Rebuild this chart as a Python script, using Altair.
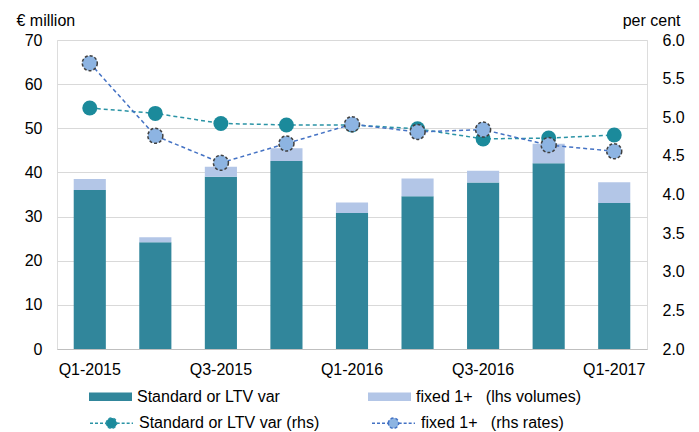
import altair as alt
import pandas as pd

quarters = ["Q1-2015", "Q2-2015", "Q3-2015", "Q4-2015", "Q1-2016",
            "Q2-2016", "Q3-2016", "Q4-2016", "Q1-2017"]
std_vol = [36.0, 24.2, 39.0, 42.6, 30.8, 34.6, 37.7, 42.1, 33.1]
fixed_vol = [2.5, 1.1, 2.3, 2.9, 2.4, 4.0, 2.7, 4.4, 4.7]
std_rate = [5.12, 5.05, 4.92, 4.90, 4.90, 4.85, 4.72, 4.73, 4.77]
fixed_rate = [5.70, 4.76, 4.41, 4.66, 4.91, 4.81, 4.84, 4.64, 4.56]
rate_ticks = [2.0, 2.5, 3.0, 3.5, 4.0, 4.5, 5.0, 5.5, 6.0]
vol_ticks = [0, 10, 20, 30, 40, 50, 60, 70]

NB = "\u00a0"
bar_names = ["Standard or LTV var", "fixed 1+" + NB * 3 + "(lhs volumes)"]
line_names = ["Standard or LTV var (rhs)", "fixed 1+" + NB * 3 + "(rhs rates)"]

bars = pd.DataFrame(
    [{"q": q, "s": bar_names[0], "v": a, "o": 0} for q, a in zip(quarters, std_vol)]
    + [{"q": q, "s": bar_names[1], "v": b, "o": 1} for q, b in zip(quarters, fixed_vol)]
)
lines = pd.DataFrame(
    [{"q": q, "s": line_names[0], "k": 0, "r": a} for q, a in zip(quarters, std_rate)]
    + [{"q": q, "s": line_names[1], "k": 1, "r": b} for q, b in zip(quarters, fixed_rate)]
)

FONT = "Liberation Sans"
teal_bar = "#31869B"
light_bar = "#B3C6E7"
teal_pt = "#1B8A9B"
light_pt = "#8DB4E2"
teal_line = "#2A93A5"
blue_line = "#4472C4"

rect_path = "M-1,-0.2L1,-0.2L1,0.2L-1,0.2Z"
line_path = ("M-1,0L-0.24,0M0.24,0L1,0M-0.24,0A0.24,0.24 0 1,1 0.24,0"
             "A0.24,0.24 0 1,1 -0.24,0Z")

x_axis = alt.Axis(title=None, labelAngle=0, ticks=False,
                  labelExpr="indexof(['Q1','Q3'], substring(datum.value,0,2)) >= 0 ? datum.value : ''",
                  labelPadding=12, labelFontSize=16, labelFont=FONT,
                  labelColor="#000000", domainColor="#BFBFBF",
                  labelOverlap=False)
x_scale = alt.Scale(paddingInner=0.51, paddingOuter=0.255)

bar_layer = alt.Chart(bars).mark_bar().encode(
    x=alt.X("q:N", sort=quarters, scale=x_scale, axis=x_axis),
    y=alt.Y("v:Q", stack="zero",
            scale=alt.Scale(domain=[0, 70]),
            axis=alt.Axis(title="€ million", titleAngle=0, titleAlign="left",
                          titleBaseline="middle", titleX=-41, titleY=-20,
                          titleFontSize=16, titleFont=FONT, titleFontWeight="normal",
                          titleColor="#000000",
                          values=vol_ticks, ticks=False,
                          labelPadding=15, labelFontSize=16, labelFont=FONT,
                          labelColor="#000000", domain=False, labelOverlap=False,
                          grid=True, gridColor="#D9D9D9")),
    color=alt.Color("s:N", sort=bar_names,
                    scale=alt.Scale(domain=bar_names, range=[teal_bar, light_bar]),
                    legend=alt.Legend(title=None, orient="none", legendX=32, legendY=335,
                                      direction="horizontal", columns=2,
                                      columnPadding=88, symbolType=rect_path,
                                      symbolSize=1849, symbolStrokeWidth=0,
                                      labelFontSize=16, labelFont=FONT,
                                      labelColor="#000000", labelOffset=5,
                                      labelLimit=400, padding=0)),
    order=alt.Order("o:Q"),
)

y_rate = alt.Y("r:Q", scale=alt.Scale(domain=[2.0, 6.0], nice=False),
               axis=alt.Axis(title="per cent", titleAngle=0, titleAlign="right",
                             titleBaseline="middle", titleX=33, titleY=-20,
                             titleFontSize=16, titleFont=FONT, titleFontWeight="normal",
                             titleColor="#000000", orient="right",
                             values=rate_ticks, tickCount=9,
                             labelExpr="format(datum.value, '.1f')",
                             ticks=False, labelPadding=15,
                             labelOverlap=False, labelSeparation=0,
                             labelFontSize=16, labelFont=FONT, labelColor="#000000",
                             domain=False, grid=False))

base = alt.Chart(lines).encode(
    x=alt.X("q:N", sort=quarters, scale=x_scale, axis=x_axis),
    y=y_rate,
)

leg = dict(title=None, orient="none", legendX=32, legendY=360.5,
           direction="horizontal", columns=2, columnPadding=49,
           symbolType=line_path, symbolSize=1849, symbolStrokeWidth=1.5,
           symbolDash=[3, 2], labelFontSize=16, labelFont=FONT,
           labelColor="#000000", labelOffset=5, labelLimit=400, padding=0)

line_layer = base.mark_line(strokeDash=[4, 3], strokeWidth=1.5).encode(
    stroke=alt.value(teal_line),
).transform_filter(alt.datum.k == 0)

line_layer2 = base.mark_line(strokeDash=[4, 3], strokeWidth=1.5).encode(
    stroke=alt.value(blue_line),
).transform_filter(alt.datum.k == 1)

point_layer = base.mark_point(filled=True, size=225, shape="circle",
                              opacity=1, strokeWidth=0).encode(
    fill=alt.Fill("s:N", sort=line_names,
                  scale=alt.Scale(domain=line_names, range=[teal_pt, light_pt]),
                  legend=alt.Legend(**leg)),
    stroke=alt.Stroke("s:N", sort=line_names,
                      scale=alt.Scale(domain=line_names, range=[teal_line, blue_line]),
                      legend=alt.Legend(**leg)),
)

outline_layer = base.mark_point(filled=False, size=225, shape="circle",
                                opacity=1, strokeWidth=1.5,
                                strokeDash=[3, 2], color="#404040"
                                ).transform_filter(alt.datum.k == 1)

rate_layers = alt.layer(line_layer, line_layer2, point_layer, outline_layer)

chart = alt.layer(bar_layer, rate_layers).resolve_scale(
    y="independent"
).properties(
    width=590, height=309,
    autosize=alt.AutoSizeParams(type="none"),
    padding={"left": 49, "top": 32, "right": 44, "bottom": 83},
).configure_view(
    stroke="#BFBFBF", strokeWidth=1
).configure(
    font=FONT
)

chart.save("out.html", embed_options={"renderer": "svg", "actions": False})
